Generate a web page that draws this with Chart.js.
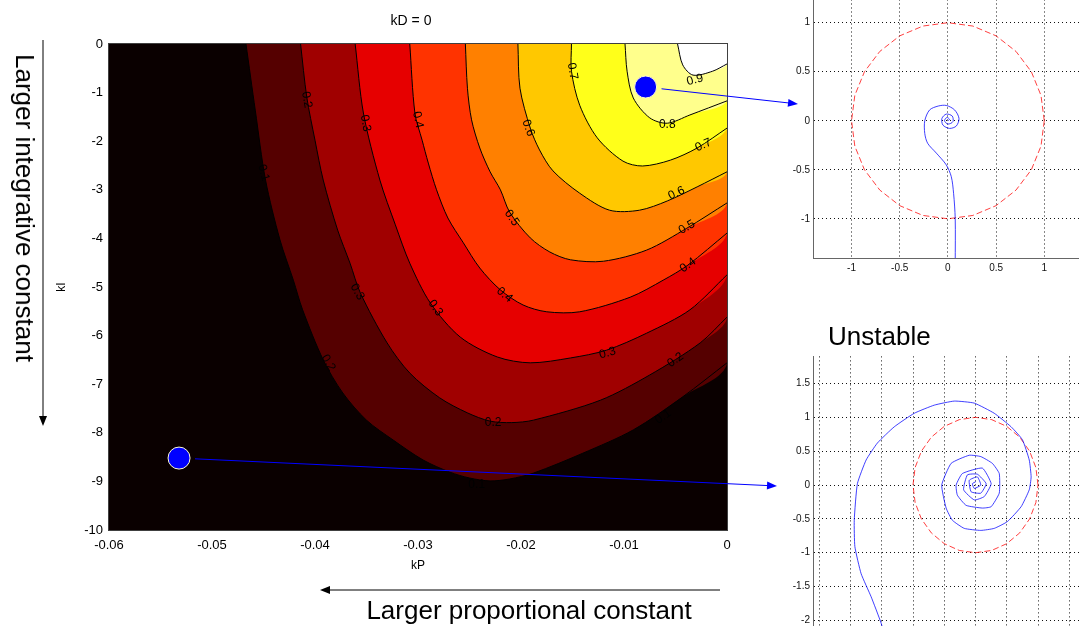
<!DOCTYPE html>
<html>
<head>
<meta charset="utf-8">
<title>kD = 0</title>
<script src="https://cdn.jsdelivr.net/npm/chart.js@4.4.1/dist/chart.umd.min.js"></script>
<style>
  html, body { margin: 0; padding: 0; background: #fff; }
  body { position: relative; width: 1079px; height: 626px; overflow: hidden;
         font-family: "Liberation Sans", Arial, Helvetica, sans-serif; }
  canvas { position: absolute; }
  #mainChart { left: 0; top: 0; }
  #stableChart { left: 770px; top: -20px; }
  #unstableChart { left: 770px; top: 340px; }
  .txt { position: absolute; white-space: nowrap; color: #000; line-height: 1; }
  #title { left: 411px; top: 20px; font-size: 14px; transform: translate(-50%, -50%); }
  #noteI { left: 25px; top: 208px; font-size: 26px; transform: translate(-50%, -50%) rotate(90deg); }
  #noteP { left: 529px; top: 610px; font-size: 26px; transform: translate(-50%, -50%); }
  #unstable { left: 828px; top: 336px; font-size: 26px; transform: translateY(-50%); }
</style>
</head>
<body>
<canvas id="mainChart" width="1079" height="626"></canvas>
<canvas id="stableChart" width="320" height="310"></canvas>
<canvas id="unstableChart" width="340" height="330"></canvas>
<div class="txt" id="title">kD = 0</div>
<div class="txt" id="noteI">Larger integrative constant</div>
<div class="txt" id="noteP">Larger proportional constant</div>
<div class="txt" id="unstable">Unstable</div>
<script>
// axes of the contour plot
const kPMin = -0.06, kPMax = 0;
const kIMin = -10, kIMax = 0;

// contour levels and the colour of each band (below 0.1 ... above 0.9)
const levels = [0.1, 0.2, 0.3, 0.4, 0.5, 0.6, 0.7, 0.8, 0.9];
const bandColors = ['#0a0000', '#550000', '#a00000', '#e60000', '#ff3300',
                    '#ff8000', '#ffc800', '#ffff1a', '#ffff8c', '#ffffff'];

// contour lines, [kP, kI]
const level1 = [[-0.0467,0],[-0.0458,-1.36],[-0.0448,-2.80],[-0.0434,-4.03],[-0.0421,-4.86],[-0.0412,-5.47],[-0.0392,-6.50],[-0.0373,-7.18],[-0.0350,-7.74],[-0.0324,-8.15],[-0.0295,-8.56],[-0.0269,-8.81],[-0.0250,-8.93],[-0.0230,-8.99],[-0.0211,-8.95],[-0.0188,-8.83],[-0.0140,-8.42],[-0.0091,-7.94],[-0.0043,-7.26],[0,-6.56]];
const level2 = [[-0.0414,0],[-0.0408,-1.09],[-0.0400,-1.98],[-0.0392,-2.80],[-0.0378,-3.83],[-0.0366,-4.51],[-0.0356,-5.12],[-0.0330,-6.15],[-0.0308,-6.77],[-0.0279,-7.28],[-0.0252,-7.59],[-0.0230,-7.76],[-0.0209,-7.79],[-0.0188,-7.74],[-0.0123,-7.33],[-0.0075,-6.81],[-0.0026,-6.15],[0,-5.62]];
const level3 = [[-0.0361,0],[-0.0353,-1.42],[-0.0337,-2.80],[-0.0322,-3.72],[-0.0308,-4.51],[-0.0288,-5.33],[-0.0259,-6.03],[-0.0223,-6.44],[-0.0191,-6.56],[-0.0152,-6.46],[-0.0117,-6.30],[-0.0078,-5.95],[-0.0036,-5.47],[0,-4.75]];
const level4 = [[-0.0308,0],[-0.0303,-1.42],[-0.0296,-1.98],[-0.0290,-2.45],[-0.0282,-3.00],[-0.0271,-3.58],[-0.0256,-4.09],[-0.0240,-4.61],[-0.0220,-5.06],[-0.0198,-5.37],[-0.0175,-5.51],[-0.0143,-5.51],[-0.0094,-5.21],[-0.0062,-4.86],[-0.0038,-4.55],[0,-3.89]];
const level5 = [[-0.0254,0],[-0.0252,-0.91],[-0.0248,-1.56],[-0.0240,-2.14],[-0.0230,-2.63],[-0.0220,-3.00],[-0.0211,-3.46],[-0.0191,-3.99],[-0.0172,-4.28],[-0.0152,-4.44],[-0.0120,-4.47],[-0.0078,-4.24],[-0.0039,-3.79],[0,-3.27]];
const level6 = [[-0.0203,0],[-0.0201,-0.91],[-0.0191,-1.73],[-0.0182,-2.18],[-0.0169,-2.61],[-0.0143,-3.07],[-0.0114,-3.42],[-0.0085,-3.42],[-0.0058,-3.23],[-0.0029,-2.94],[0,-2.63]];
const level7 = [[-0.0151,0],[-0.0151,-0.56],[-0.0143,-1.26],[-0.0126,-1.93],[-0.0101,-2.41],[-0.0082,-2.51],[-0.0055,-2.39],[-0.0029,-2.14],[0,-1.73]];
const level8 = [[-0.0099,0],[-0.0097,-0.56],[-0.0091,-1.11],[-0.0075,-1.52],[-0.0058,-1.63],[-0.0036,-1.46],[0,-1.17]];
const level9 = [[-0.0048,0],[-0.0043,-0.43],[-0.0033,-0.64],[-0.0014,-0.56],[0,-0.41]];
const contours = [level1, level2, level3, level4, level5, level6, level7, level8, level9];

// inline contour labels
const labelText = ['0.1','0.2','0.3','0.4','0.6','0.7','0.9','0.8','0.7','0.6','0.5','0.4','0.5','0.4','0.3','0.3','0.2','0.2','0.3','0.2','0.1','0.1'];
const labelP = [-0.0450,-0.0408,-0.0351,-0.0300,-0.0193,-0.0150,-0.0031,-0.0058,-0.0023,-0.0049,-0.0039,-0.0038,-0.0209,-0.0216,-0.0283,-0.0116,-0.0050,-0.0227,-0.0359,-0.0387,-0.0243,-0.0062];
const labelI = [-2.65,-1.15,-1.63,-1.56,-1.73,-0.56,-0.74,-1.67,-2.08,-3.07,-3.77,-4.55,-3.58,-5.16,-5.43,-6.36,-6.50,-7.80,-5.10,-6.56,-9.07,-7.67];
const labelRot = [75,80,80,78,70,80,-15,0,-25,-25,-30,-35,55,40,55,-15,-35,0,60,60,0,-35];

// the two operating points
const pointP = [-0.0079, -0.0532];
const pointI = [-0.885, -8.52];

// Nyquist curves (real, imaginary)
const stableRe = [0.076,0.076,0.059,0.035,-0.017,-0.12,-0.21,-0.24,-0.24,-0.19,-0.10,-0.017,0.07,0.115,0.087,0.017,-0.052,-0.062,-0.017,0.045,0.052,0,-0.035,-0.01,0.017,0];
const stableIm = [-1.45,-1.0,-0.74,-0.57,-0.45,-0.33,-0.23,-0.13,0.0,0.11,0.15,0.156,0.11,0.024,-0.054,-0.078,-0.044,0.024,0.068,0.048,-0.01,-0.034,0,0.034,0.014,0];
const unstableRe = [-1.40,-1.51,-1.67,-1.83,-1.93,-1.94,-1.89,-1.75,-1.57,-1.30,-0.98,-0.66,-0.34,-0.02,0.30,0.57,0.75,0.86,0.89,0.86,0.73,0.51,0.30,0.085,-0.18,-0.37,-0.47,-0.54,-0.39,-0.10,0.085,0.27,0.38,0.38,0.25,0.11,-0.15,-0.29,-0.31,-0.21,0.11,0.25,0.14,-0.02,-0.19,-0.13,0.03,0.17,0.085,-0.07,-0.10,0.03,0.085,-0.02,-0.05,0.005];
const unstableIm = [-2.40,-2.04,-1.65,-1.31,-0.91,-0.52,0.02,0.37,0.62,0.86,1.06,1.18,1.24,1.21,1.06,0.86,0.67,0.37,0.12,-0.07,-0.32,-0.54,-0.64,-0.67,-0.64,-0.52,-0.34,0,0.32,0.44,0.42,0.32,0.17,-0.12,-0.32,-0.34,-0.30,-0.15,0,0.17,0.25,0.02,-0.17,-0.22,-0.07,0.15,0.16,0.02,-0.12,-0.10,0.07,0.12,0,-0.05,0.02,0.05];
// unit circle, every 15 degrees
const circleRe = [1,0.966,0.866,0.707,0.5,0.259,0,-0.259,-0.5,-0.707,-0.866,-0.966,-1,-0.966,-0.866,-0.707,-0.5,-0.259,0,0.259,0.5,0.707,0.866,0.966,1];
const circleIm = [0,0.259,0.5,0.707,0.866,0.966,1,0.966,0.866,0.707,0.5,0.259,0,-0.259,-0.5,-0.707,-0.866,-0.966,-1,-0.966,-0.866,-0.707,-0.5,-0.259,0];

const FONT = '"Liberation Sans", Arial, Helvetica, sans-serif';
Chart.defaults.font.family = FONT;
Chart.defaults.color = '#000';

const pairs = arr => arr.map(([x, y]) => ({ x, y }));
const zip = (xs, ys) => xs.map((x, i) => ({ x, y: ys[i] }));
const fmt = v => String(+v.toFixed(2));
const noPad = s => { s.paddingLeft = 0; s.paddingRight = 0; s.paddingTop = 0; s.paddingBottom = 0; };

// ---------- main contour plot ----------
const datasets = [];
datasets.push({
  data: pairs([[kPMin, kIMax], [kPMax, kIMax], [kPMax, kIMin], [kPMin, kIMin]]),
  fill: 'shape', backgroundColor: bandColors[0], borderColor: 'transparent',
  borderWidth: 0, pointRadius: 0, order: 30
});
contours.forEach((c, i) => {
  datasets.push({
    data: pairs(c.concat([[kPMax, kIMax]])),
    fill: 'shape', backgroundColor: bandColors[i + 1], borderColor: 'transparent',
    borderWidth: 0, pointRadius: 0, tension: 0.3, order: 29 - i
  });
});
contours.forEach(c => {
  datasets.push({
    data: pairs(c), fill: false, borderColor: '#000', borderWidth: 1,
    pointRadius: 0, tension: 0.3, order: 5
  });
});
datasets.push({
  data: zip(pointP, pointI), showLine: false, pointRadius: 11,
  pointBackgroundColor: '#0000ff', pointBorderColor: '#fffbd0', pointBorderWidth: 1, order: 0
});

function arrow(ctx, x1, y1, x2, y2, color, len, half) {
  const a = Math.atan2(y2 - y1, x2 - x1);
  const c = Math.cos(a), s = Math.sin(a);
  ctx.strokeStyle = color; ctx.fillStyle = color; ctx.lineWidth = 1;
  ctx.beginPath();
  ctx.moveTo(x1, y1);
  ctx.lineTo(x2 - c * len * 0.8, y2 - s * len * 0.8);
  ctx.stroke();
  ctx.beginPath();
  ctx.moveTo(x2, y2);
  ctx.lineTo(x2 - len * c + half * s, y2 - len * s - half * c);
  ctx.lineTo(x2 - len * c - half * s, y2 - len * s + half * c);
  ctx.closePath();
  ctx.fill();
}

const mainDecor = {
  id: 'mainDecor',
  afterDatasetsDraw(chart) {
    const { ctx, chartArea: a } = chart;
    const sx = chart.scales.x, sy = chart.scales.y;
    ctx.save();
    // contour labels
    ctx.save();
    ctx.beginPath();
    ctx.rect(a.left, a.top, a.right - a.left, a.bottom - a.top);
    ctx.clip();
    ctx.font = '12px ' + FONT;
    ctx.fillStyle = '#000';
    ctx.textAlign = 'center';
    ctx.textBaseline = 'middle';
    labelText.forEach((t, i) => {
      ctx.save();
      ctx.translate(sx.getPixelForValue(labelP[i]), sy.getPixelForValue(labelI[i]));
      ctx.rotate(labelRot[i] * Math.PI / 180);
      ctx.fillText(t, 0, 0);
      ctx.restore();
    });
    ctx.restore();
    // plot box
    ctx.strokeStyle = '#404040';
    ctx.lineWidth = 1;
    ctx.strokeRect(a.left - 0.5, a.top - 0.5, a.right - a.left + 1, a.bottom - a.top + 1);
    // axis names
    ctx.fillStyle = '#000';
    ctx.font = '12px ' + FONT;
    ctx.textAlign = 'center';
    ctx.textBaseline = 'middle';
    ctx.fillText('kP', (a.left + a.right) / 2, 566);
    ctx.save();
    ctx.translate(62, (a.top + a.bottom) / 2);
    ctx.rotate(-Math.PI / 2);
    ctx.fillText('kI', 0, 0);
    ctx.restore();
    // arrows from the two points to their Nyquist plots
    const tips = [[798, 104], [777, 486]];
    pointP.forEach((p, i) => {
      const px = sx.getPixelForValue(p), py = sy.getPixelForValue(pointI[i]);
      const [tx, ty] = tips[i];
      const d = Math.hypot(tx - px, ty - py);
      arrow(ctx, px + (tx - px) * 16 / d, py + (ty - py) * 16 / d, tx, ty, '#0000ff', 10, 4);
    });
    // direction arrows
    arrow(ctx, 43, 40, 43, 426, '#000', 10, 4);
    arrow(ctx, 720, 590, 320, 590, '#000', 10, 4);
    ctx.restore();
  }
};

new Chart(document.getElementById('mainChart'), {
  type: 'scatter',
  data: { datasets },
  options: {
    responsive: false,
    animation: false,
    events: [],
    showLine: true,
    layout: { padding: { left: 0, top: 44, right: 352, bottom: 46 } },
    plugins: { legend: { display: false }, tooltip: { enabled: false } },
    scales: {
      x: {
        type: 'linear', min: kPMin, max: kPMax,
        afterFit(s) { s.height = 50; noPad(s); },
        grid: { display: false, drawTicks: false },
        border: { display: false },
        ticks: { stepSize: 0.01, maxRotation: 0, autoSkip: false, padding: 8,
                 font: { size: 13 }, callback: fmt }
      },
      y: {
        type: 'linear', min: kIMin, max: kIMax,
        afterFit(s) { s.width = 109; noPad(s); },
        grid: { display: false, drawTicks: false },
        border: { display: false },
        ticks: { stepSize: 1, autoSkip: false, padding: 6, font: { size: 13 }, callback: fmt }
      }
    }
  },
  plugins: [mainDecor]
});

// ---------- Nyquist plots ----------
function nyquistScale(min, max, size, axis, showLabels, pad) {
  return {
    type: 'linear', min, max,
    afterFit(s) { if (axis === 'x') s.height = size; else s.width = size; noPad(s); },
    grid: { color: '#111', drawTicks: false, lineWidth: 1 },
    border: { color: '#666', dash: [1, 3] },
    ticks: { stepSize: 0.5, includeBounds: false, maxRotation: 0, autoSkip: false,
             display: showLabels, padding: pad, font: { size: 10 }, color: '#111', callback: fmt }
  };
}

new Chart(document.getElementById('stableChart'), {
  type: 'scatter',
  data: {
    datasets: [
      { data: zip(stableRe, stableIm), showLine: true, borderColor: 'rgba(0,0,255,0.75)',
        borderWidth: 1, pointRadius: 0, tension: 0.3, order: 0 },
      { data: zip(circleRe, circleIm), showLine: true, borderColor: 'rgba(255,0,0,0.75)',
        borderWidth: 1, borderDash: [6, 3], pointRadius: 0, order: 1 }
    ]
  },
  options: {
    responsive: false, animation: false, events: [],
    layout: { padding: { left: 0, top: 3.5, right: 7.2, bottom: 0 } },
    plugins: { legend: { display: false }, tooltip: { enabled: false } },
    scales: {
      x: nyquistScale(-1.4, 1.4, 32, 'x', true, 4),
      y: nyquistScale(-1.4, 1.4, 43, 'y', true, 3)
    }
  }
});

new Chart(document.getElementById('unstableChart'), {
  type: 'scatter',
  data: {
    datasets: [
      { data: zip(unstableRe, unstableIm), showLine: true, borderColor: 'rgba(0,0,255,0.75)',
        borderWidth: 1, pointRadius: 0, tension: 0.15, order: 0 },
      { data: zip(circleRe, circleIm), showLine: true, borderColor: 'rgba(255,0,0,0.75)',
        borderWidth: 1, borderDash: [6, 3], pointRadius: 0, order: 1 }
    ]
  },
  options: {
    responsive: false, animation: false, events: [],
    layout: { padding: { left: 0, top: 16.4, right: 9.5, bottom: 0 } },
    plugins: { legend: { display: false }, tooltip: { enabled: false } },
    scales: {
      x: nyquistScale(-2.6, 2.0, 15.7, 'x', false, 4),
      y: nyquistScale(-2.5, 1.9, 43, 'y', true, 3)
    }
  }
});
</script>
</body>
</html>
